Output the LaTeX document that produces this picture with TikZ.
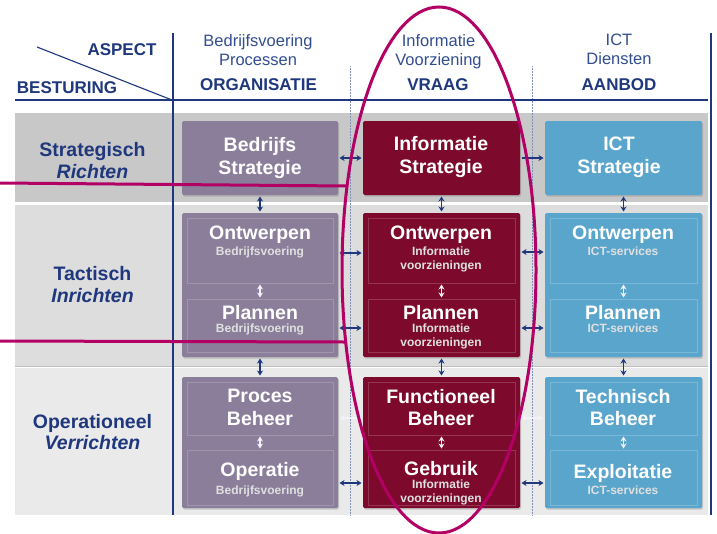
\documentclass[tikz,border=0pt]{standalone}
\usepackage{fontspec}
\setmainfont{Liberation Sans}
\usetikzlibrary{arrows.meta,shadows}
\definecolor{navy}{RGB}{30,55,125}
\definecolor{navyl}{RGB}{50,78,145}
\definecolor{bandS}{RGB}{200,200,200}
\definecolor{bandT}{RGB}{221,221,221}
\definecolor{bandO}{RGB}{234,234,234}
\definecolor{cpur}{RGB}{138,126,154}
\definecolor{cred}{RGB}{125,10,45}
\definecolor{cblu}{RGB}{90,165,204}
\definecolor{cmag}{RGB}{178,0,100}
\definecolor{warrow}{RGB}{242,242,248}
\begin{document}
\begin{tikzpicture}[x=1pt,y=-1pt,
  every node/.style={inner sep=0pt,outer sep=0pt},
  boxbase/.style={rounded corners=1.5pt,drop shadow={shadow xshift=1pt,shadow yshift=-1.5pt,opacity=.35}},
  pbox/.style={boxbase,fill=cpur},
  rbox/.style={boxbase,fill=cred},
  bbox/.style={boxbase,fill=cblu},
  psub/.style={fill=cpur,draw=cpur!82!white,line width=.8pt},
  rsub/.style={fill=cred,draw=cred!82!white,line width=.8pt},
  bsub/.style={fill=cblu,draw=cblu!80!white,line width=.8pt},
  ttl/.style={anchor=north,align=center,text=white,font=\fontsize{19.5}{22.5}\selectfont\bfseries},
  subt/.style={anchor=north,align=center,text=white!88!black,font=\fontsize{12}{14}\selectfont\bfseries},
  rowlab/.style={anchor=north,align=center,text=navy,font=\fontsize{19.5}{21.5}\selectfont\bfseries},
  hdr/.style={anchor=north,align=center,text=navyl,font=\fontsize{16.5}{19}\selectfont},
  hdrb/.style={anchor=north,align=center,text=navy,font=\fontsize{17}{20}\selectfont\bfseries},
  tip/.tip={Stealth[length=5pt,width=6pt]},
  dbl/.style={navy,line width=1.1pt,tip-tip,shorten <=1.5pt,shorten >=1.5pt},
  sgl/.style={navy,line width=1.1pt,-tip,shorten <=1.5pt,shorten >=1.5pt},
  wdbl/.style={warrow,line width=1.1pt,tip-tip,shorten <=1.5pt,shorten >=1.5pt},
  wsgl/.style={warrow,line width=1.1pt,-tip,shorten <=1.5pt,shorten >=1.5pt},
  mag/.style={cmag,line width=3pt}
]
\useasboundingbox (0,0) rectangle (717,533);
\fill[white] (0,0) rectangle (717,533);
% bands
\fill[bandS] (15,113) rectangle (708,202);
\fill[bandT] (15,205) rectangle (708,366);
\fill[bandO] (15,368) rectangle (708,515);
\draw[black!25,line width=.6pt] (15,366.5) -- (708,366.5);
% grid lines
\draw[navy!55,line width=.5pt,densely dotted] (350,66) -- (350,515);
\draw[navy!55,line width=.5pt,densely dotted] (532,66) -- (532,515);
\draw[navy,line width=1.8pt] (15,100) -- (708,100);
\draw[navy,line width=2.6pt] (173,33) -- (173,515);
\draw[navy,line width=2.6pt] (711,33) -- (711,515);
\draw[navy,line width=1.1pt] (37,47) -- (172,100);
% headers
\node[hdrb] (haspect) at (122,43.3) {ASPECT};
\node[hdrb] (hbest) at (67,81.7) {BESTURING};
\node[hdr] (h1) at (258,34.3) {Bedrijfsvoering\\Processen};
\node[hdrb] (h1b) at (258.5,79) {ORGANISATIE};
\node[hdr] (h2) at (438.5,34.3) {Informatie\\Voorziening};
\node[hdrb] (h2b) at (438,79) {VRAAG};
\node[hdr] (h3) at (619,34.3) {ICT\\Diensten};
\node[hdrb] (h3b) at (619,79) {AANBOD};
% row labels
\node[rowlab] (rs) at (92.5,142.7) {Strategisch\\\textit{Richten}};
\node[rowlab] (rt) at (92.5,266.7) {Tactisch\\\textit{Inrichten}};
\node[rowlab] (ro) at (92.5,414.3) {Operationeel\\\textit{Verrichten}};
% strategy boxes
\node[pbox,minimum width=156pt,minimum height=74pt] (bs) at (260,158) {};
\node[rbox,minimum width=157pt,minimum height=74pt] (is) at (441.5,158) {};
\node[bbox,minimum width=157pt,minimum height=74pt] (cs) at (623.5,158) {};
% tactical groups
\node[pbox,minimum width=156pt,minimum height=144pt] (t1) at (260,285) {};
\node[rbox,minimum width=157pt,minimum height=144pt] (t2) at (441.5,285) {};
\node[bbox,minimum width=157pt,minimum height=144pt] (t3) at (623.5,285) {};
\node[psub,minimum width=146pt,minimum height=65pt] (o1) at (260,250.5) {};
\node[rsub,minimum width=147pt,minimum height=65pt] (o2) at (441.5,250.5) {};
\node[bsub,minimum width=147pt,minimum height=65pt] (o3) at (623.5,250.5) {};
\node[psub,minimum width=146pt,minimum height=53pt] (p1) at (260,325.5) {};
\node[rsub,minimum width=147pt,minimum height=53pt] (p2) at (441.5,325.5) {};
\node[bsub,minimum width=147pt,minimum height=53pt] (p3) at (623.5,325.5) {};
% operational groups
\node[pbox,minimum width=156pt,minimum height=131pt] (g1) at (260,442.5) {};
\node[rbox,minimum width=157pt,minimum height=131pt] (g2) at (441.5,442.5) {};
\node[bbox,minimum width=157pt,minimum height=131pt] (g3) at (623.5,442.5) {};
\node[psub,minimum width=146pt,minimum height=53pt] (b1) at (260,408.5) {};
\node[rsub,minimum width=147pt,minimum height=53pt] (b2) at (441.5,408.5) {};
\node[bsub,minimum width=147pt,minimum height=53pt] (b3) at (623.5,408.5) {};
\node[psub,minimum width=146pt,minimum height=55pt] (u1) at (260,477.5) {};
\node[rsub,minimum width=147pt,minimum height=55pt] (u2) at (441.5,477.5) {};
\node[bsub,minimum width=147pt,minimum height=55pt] (u3) at (623.5,477.5) {};
% texts
\node[ttl] (tbs) at (260,137.7) {Bedrijfs\\Strategie};
\node[ttl] (tis) at (441,136.7) {Informatie\\Strategie};
\node[ttl] (tcs) at (619,137) {ICT\\Strategie};
\node[ttl] (to1) at (260,226.2) {Ontwerpen};
\node[ttl] (to2) at (441,226.2) {Ontwerpen};
\node[ttl] (to3) at (623,226.2) {Ontwerpen};
\node[subt] (so1) at (260,247.2) {Bedrijfsvoering};
\node[subt] (so2) at (441,247.2) {Informatie\\voorzieningen};
\node[subt] (so3) at (623,247.2) {ICT-services};
\node[ttl] (tp1) at (260,305) {Plannen};
\node[ttl] (tp2) at (441,305) {Plannen};
\node[ttl] (tp3) at (623,305) {Plannen};
\node[subt] (sp1) at (260,324) {Bedrijfsvoering};
\node[subt] (sp2) at (441,324) {Informatie\\voorzieningen};
\node[subt] (sp3) at (623,324) {ICT-services};
\node[ttl] (tb1) at (260,389.3) {Proces\\Beheer};
\node[ttl] (tb2) at (441,389.3) {Functioneel\\Beheer};
\node[ttl] (tb3) at (623,389.3) {Technisch\\Beheer};
\node[ttl] (tu1) at (260,462.2) {Operatie};
\node[ttl] (tu2) at (441,461.2) {Gebruik};
\node[ttl] (tu3) at (623,464.5) {Exploitatie};
\node[subt] (su1) at (260,485.5) {Bedrijfsvoering};
\node[subt] (su2) at (441,479.8) {Informatie\\voorzieningen};
\node[subt] (su3) at (623,485.5) {ICT-services};
% vertical arrows
\foreach \c in {1,2,3}{
  \draw[wdbl] (o\c.south) -- (p\c.north);
  \draw[dbl] (t\c.south) -- (g\c.north);
  \draw[wdbl] (b\c.south) -- (u\c.north);
}
\draw[dbl] (bs.south) -- (t1.north);
\draw[dbl] (is.south) -- (t2.north);
\draw[dbl] (cs.south) -- (t3.north);
% horizontal arrows
\draw[dbl] (bs.east) -- (is.west);
\draw[sgl] (is.east) -- (cs.west);
\draw[dbl] (t1.east |- 0,253) -- (t2.west |- 0,253);
\draw[dbl] (t2.east |- 0,252) -- (t3.west |- 0,252);
\draw[dbl] (t1.east |- 0,328) -- (t2.west |- 0,328);
\draw[dbl] (t2.east |- 0,328) -- (t3.west |- 0,328);
\draw[wsgl] (g2.west |- 0,418) -- (g1.east |- 0,418);
\draw[wdbl] (g2.east |- 0,418) -- (g3.west |- 0,418);
\draw[dbl] (g1.east |- 0,483) -- (g2.west |- 0,483);
\draw[dbl] (g2.east |- 0,483) -- (g3.west |- 0,483);
% magenta overlay
\coordinate (m1l) at (0,183);
\coordinate (m1r) at (346,186);
\coordinate (m2l) at (0,341);
\coordinate (m2r) at (345,342);
\draw[mag] (m1l) -- (m1r);
\draw[mag] (m2l) -- (m2r);
\draw[mag] (439,270) ellipse [x radius=97pt, y radius=263pt];
\end{tikzpicture}
\end{document}
